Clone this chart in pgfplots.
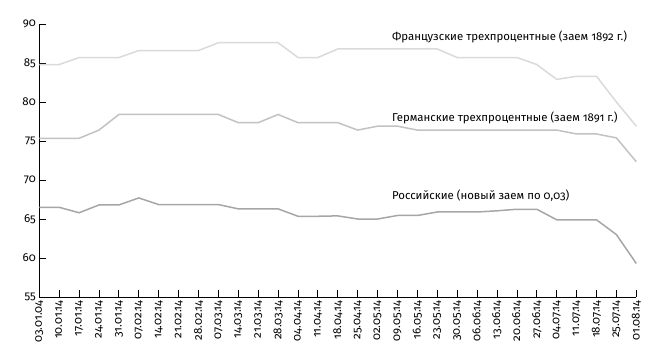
\documentclass[border=0pt]{standalone}
\usepackage{fontspec}
\setmainfont{Fira Sans}[Numbers=OldStyle]
\usepackage{pgfplots}
\usepackage{pgfplotstable}
\pgfplotsset{compat=1.18}
\definecolor{frc}{HTML}{DADADA}
\definecolor{dec}{HTML}{C2C2C2}
\definecolor{ruc}{HTML}{A6A6A6}
\pgfplotstableread{
i fr de ru
0 84.8 75.35 66.5
1 84.8 75.35 66.5
2 85.7 75.35 65.8
3 85.7 76.4 66.8
4 85.7 78.4 66.8
5 86.6 78.4 67.7
6 86.6 78.4 66.85
7 86.6 78.4 66.85
8 86.6 78.4 66.85
9 87.6 78.4 66.85
10 87.6 77.35 66.3
11 87.6 77.35 66.3
12 87.6 78.4 66.3
13 85.7 77.35 65.35
14 85.7 77.35 65.35
15 86.8 77.35 65.4
16 86.8 76.4 65.0
17 86.8 76.9 65.0
18 86.8 76.9 65.45
19 86.8 76.4 65.45
20 86.8 76.4 65.9
21 85.7 76.4 65.9
22 85.7 76.4 65.9
23 85.7 76.4 66.05
24 85.7 76.4 66.25
25 84.8 76.4 66.25
26 82.9 76.4 64.9
27 83.3 75.9 64.9
28 83.3 75.9 64.9
29 80.0 75.4 63.0
30 76.9 72.35 59.3
}\data
\begin{document}
\begin{tikzpicture}[x=1pt,y=1pt]
\begin{axis}[
  at={(0,0)}, anchor=south west,
  scale only axis, width=597pt, height=273pt,
  xmin=0, xmax=30, ymin=55, ymax=90,
  axis lines*=left, axis line style={black, line width=0.8pt},
  clip=false,
  ytick={55,60,...,90},
  xtick={0,...,30},
  xticklabels={03.01.04,10.01.14,17.01.14,24.01.14,31.01.14,07.02.14,14.02.14,21.02.14,28.02.14,07.03.14,14.03.14,21.03.14,28.03.14,04.04.14,11.04.14,18.04.14,25.04.14,02.05.14,09.05.14,16.05.14,23.05.14,30.05.14,06.06.14,13.06.14,20.06.14,27.06.14,04.07.14,11.07.14,18.07.14,25.07.14,01.08.14},
  x tick label style={rotate=90, anchor=east, font=\fontsize{11.5}{12}\selectfont},
  y tick label style={font=\fontsize{11.5}{12}\selectfont},
  /pgf/number format/assume math mode=true,
  tick align=inside, major tick length=7pt,
  tick style={black, line width=0.8pt},
  xtick pos=bottom, ytick pos=left,
]
\addplot[frc, line width=1.5pt] table[x=i,y=fr]{\data};
\addplot[dec, line width=1.5pt] table[x=i,y=de]{\data};
\addplot[ruc, line width=1.5pt] table[x=i,y=ru]{\data};
\node[anchor=west, inner sep=0pt, font=\fontsize{11.4}{12}\selectfont] at (axis cs:17.72,88.3) {Французские трехпроцентные (заем 1892 г.)};
\node[anchor=west, inner sep=0pt, font=\fontsize{11.4}{12}\selectfont] at (axis cs:17.72,77.9) {Германские трехпроцентные (заем 1891 г.)};
\node[anchor=west, inner sep=0pt, font=\fontsize{11.4}{12}\selectfont] at (axis cs:17.72,68.0) {Российские (новый заем по 0,03)};
\end{axis}
\pgfresetboundingbox
\useasboundingbox (-39.3,-57) rectangle (617.7,297);
\end{tikzpicture}
\end{document}
